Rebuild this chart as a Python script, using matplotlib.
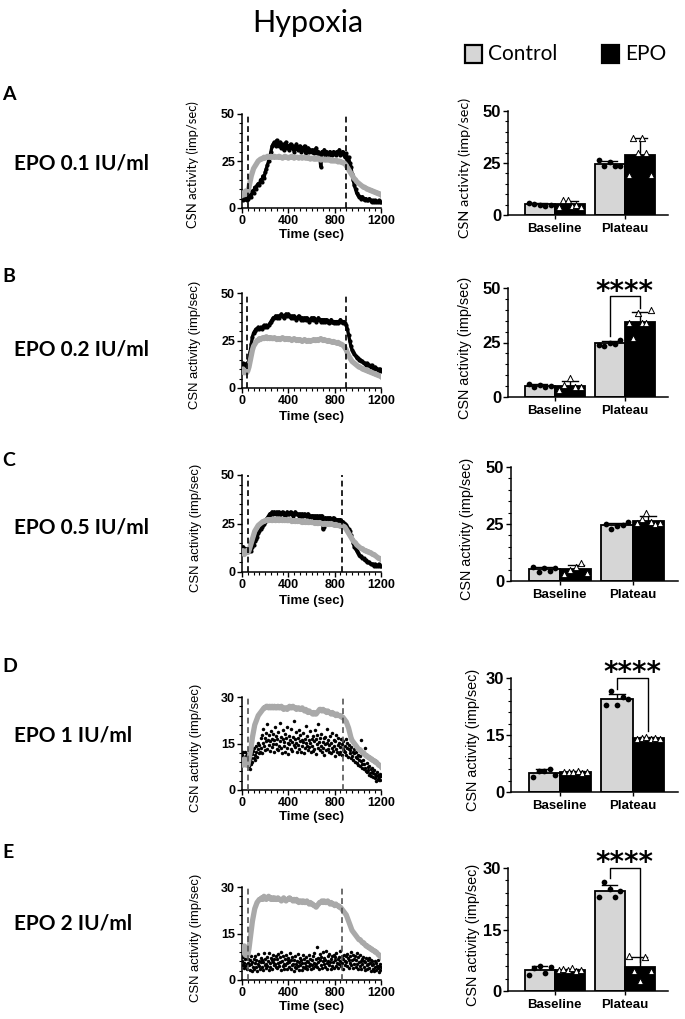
import numpy as np
import matplotlib
matplotlib.use('Agg')
import matplotlib.pyplot as plt
from matplotlib.ticker import MultipleLocator
from matplotlib.patches import Rectangle

# ---------------- DATA ----------------
panel_letters = ['A', 'B', 'C', 'D', 'E']
dose_labels = ['EPO 0.1 IU/ml', 'EPO 0.2 IU/ml', 'EPO 0.5 IU/ml', 'EPO 1 IU/ml', 'EPO 2 IU/ml']
legend_labels = ['Control', 'EPO']
group_labels = ['Baseline', 'Plateau']
time_ticks = [0, 400, 800, 1200]

# hypoxia on / off markers (sec)
dash_A = [50, 895]
dash_B = [45, 895]
dash_C = [55, 860]
dash_D = [55, 870]
dash_E = [50, 860]

# time courses (0 .. 1200 s)
A_time_ctrl = [7, 8, 7, 9, 8, 9,
               11, 14, 17, 19, 21, 22, 23, 24, 25, 25.5,
               26, 26, 26.5, 27, 26.5, 27, 27.5, 27, 27, 27.5, 27, 27, 27.5, 27, 27,
               27, 27.5, 27, 27, 26.5, 27, 27.5, 27, 27, 26.5, 27, 27, 27.5, 27, 26.5, 27, 27, 27, 26.5, 27, 27, 26.5, 27, 27, 26.5, 26.5, 27, 26.5, 26, 26.5,
               26.5, 26, 26.5, 26, 26, 26.5, 26, 25.5, 26, 26, 25.5, 26, 25.5, 25.5, 26, 25.5, 25, 25.5, 25, 25, 25.5, 25, 24.5, 25, 24.5, 24.5, 24, 24,
               23.5, 22.5, 21.5, 20.5, 19.5, 18.5, 17.5, 16.5, 15.5, 15, 14, 13.5, 13, 12.5, 12, 11.5, 11, 11, 10.5, 10, 10, 9.5, 9.5, 9, 9, 8.5, 8.5, 8, 8, 7.5, 7.5, 7]
A_time_epo = [5, 4, 6, 5, 4, 5,
              6, 7, 6, 9, 8, 11, 10, 12, 13, 12, 15, 14, 17, 16, 19,
              21, 23, 25, 27, 30, 33, 34, 35, 33, 36,
              34, 33, 35, 32, 34, 31, 33, 35, 32, 33, 31, 34, 32, 33, 30, 32, 34, 31, 32, 33, 30, 32, 31, 33, 29, 31, 32, 30, 31, 30,
              31, 29, 30, 32, 29, 30, 28, 22, 30, 29, 31, 28, 30, 29, 28, 30, 29, 28, 30, 29, 28, 30, 29, 31, 28, 29, 30, 28,
              27, 29, 25, 27, 24, 22, 18, 15, 12, 10, 8, 7, 6, 6, 5, 6, 5, 4, 5, 4, 4, 5, 4, 3, 4, 3, 4, 3, 3, 4, 3, 3]

B_time_ctrl = [9, 10, 8, 9, 8, 9,
               11, 14, 17, 20, 22, 23, 24, 25, 25, 26,
               25.5, 26, 26.5, 26, 26.5, 27, 26, 26.5, 26, 26.5, 26, 26, 26.5, 26, 25.5,
               26, 26, 25.5, 26, 26.5, 26, 25.5, 26, 26, 25.5, 26, 25.5, 25, 25.5, 26, 25.5, 25, 25.5, 25, 25.5, 25, 24.5, 25, 25.5, 25, 24.5, 25, 25, 24.5, 25,
               25, 25.5, 25, 25, 25.5, 25, 25.5, 26, 25.5, 25, 25.5, 25, 25, 24.5, 25, 24.5, 24.5, 24, 24.5, 24, 24, 23.5, 24, 23.5, 23, 23, 22.5, 22,
               21, 20, 18.5, 17, 16, 15, 14, 13.5, 13, 12.5, 12, 11.5, 11, 11, 10.5, 10, 10, 9.5, 9.5, 9, 9, 8.5, 8.5, 8, 8, 7.5, 7.5, 7, 7, 6.5, 6.5, 6]
B_time_epo = [12, 13, 11, 12, 13, 12,
              15, 19, 23, 27, 29, 30, 31, 31, 32, 31,
              32, 31, 32, 33, 32, 33, 32, 33, 34, 35, 36, 37, 37, 38, 37,
              38, 37, 38, 39, 38, 37, 38, 39, 38, 39, 38, 37, 38, 37, 38, 37, 36, 37, 38, 37, 36, 37, 36, 37, 36, 37, 36, 35, 36, 37,
              36, 37, 36, 35, 36, 37, 36, 35, 36, 35, 36, 35, 36, 35, 34, 35, 36, 35, 34, 35, 34, 35, 34, 35, 36, 35, 34, 35,
              34, 33, 31, 28, 25, 22, 20, 19, 18, 17, 16, 16, 15, 15, 14, 14, 13, 13, 12, 13, 12, 12, 11, 12, 11, 10, 11, 10, 10, 9, 10, 9]

C_time_ctrl = [10, 11, 9, 10, 11, 10,
               11, 13, 15, 17, 19, 21, 22, 23, 24, 24.5,
               25, 25.5, 26, 26, 26.5, 26.5, 27, 26.5, 27, 27, 26.5, 27, 27, 26.5, 27,
               27, 26.5, 27, 27, 26.5, 27, 26.5, 27, 26.5, 26.5, 27, 26.5, 26, 26.5, 26.5, 26, 26.5, 26, 26.5, 26, 26, 25.5, 26, 26, 25.5, 26, 25.5, 25.5, 26, 25.5,
               25.5, 25.5, 25, 25.5, 25, 25, 25.5, 25, 25, 24.5, 25, 25, 24.5, 25, 24.5, 24.5, 25, 24.5, 24.5, 24, 24.5, 24, 24, 24, 23.5, 24, 23.5, 23.5,
               23, 22, 21, 20, 19, 18, 17, 16, 15.5, 15, 14, 13.5, 13, 12.5, 12, 12, 11.5, 11, 11, 10.5, 10.5, 10, 10, 9.5, 9, 9, 8.5, 8, 7.5, 7, 7, 6.5]
C_time_epo = [12, 13, 11, 12, 11, 12,
              11, 12, 11, 13, 14, 16, 17, 18, 20, 21,
              22, 23, 24, 25, 26, 27, 28, 29, 30, 30, 31, 30, 31, 30, 31,
              30, 31, 30, 30, 31, 30, 29, 30, 31, 30, 30, 31, 30, 29, 30, 31, 30, 30, 29, 30, 29, 30, 29, 30, 29, 29, 30, 29, 28, 29,
              29, 28, 29, 28, 29, 28, 29, 28, 29, 22, 23, 28, 27, 28, 27, 28, 27, 27, 28, 27, 27, 26, 27, 26, 27, 26, 26, 25,
              25, 24, 23, 22, 21, 19, 17, 15, 13, 12, 11, 10, 9, 8, 8, 7, 7, 6, 6, 5, 5, 5, 4, 4, 4, 3, 4, 3, 3, 4, 3, 3]

D_time_ctrl = [9, 8, 10, 9, 8, 8,
               10, 12, 14, 17, 19, 21, 22, 23, 24, 24.5,
               25, 25.5, 26, 26.5, 26.5, 27, 27, 26.5, 27, 26.5, 27, 26.5, 27, 26.5, 26.5,
               27, 26.5, 26.5, 27, 26.5, 26, 26.5, 26.5, 26, 26.5, 27, 26.5, 26.5, 27, 26.5, 26.5, 26, 26.5, 26.5, 26, 26, 26.5, 26, 25.5, 26, 25.5, 25, 25.5, 25, 25,
               24.5, 25, 24.5, 24.5, 25, 25.5, 26, 26, 25.5, 26, 25.5, 25.5, 25, 25.5, 25, 25, 24.5, 25, 24.5, 24.5, 24, 24.5, 24, 24, 24, 23.5, 23.5, 23,
               22.5, 22, 21, 20, 18.5, 17, 16, 15.5, 15, 14.5, 14, 13.5, 13, 13, 12.5, 12, 12, 11.5, 11, 11, 10.5, 10.5, 10, 10, 9.5, 9.5, 9, 9, 8.5, 8, 8, 7.5]
D_time_epo = [11.2, 9.6, 12.4, 8.8, 10.5, 12.1, 9.3, 10.9, 11.6, 8.4, 10.2, 9.7,
              7.6, 9.8, 6.9, 10.4, 8.3, 11.7, 9.1, 12.6, 10.3, 13.4, 11.2, 9.6, 14.1, 12.3, 10.8, 15.2, 13.1, 11.9,
              14.6, 12.2, 16.8, 13.5, 17.9, 11.8, 15.3, 19.6, 14.2, 16.7, 12.9, 18.4, 15.8, 13.1, 21.3, 16.2, 14.4, 17.6, 12.7, 15.9,
              19.1, 13.8, 16.4, 14.9, 18.2, 12.4, 16.1, 20.4, 14.7, 17.3, 13.2,
              16.6, 12.8, 18.7, 14.3, 15.8, 21.6, 13.4, 17.2, 11.9, 16.3, 19.4, 14.1, 15.6, 12.2, 18.1, 16.9, 13.7, 20.2, 15.1, 11.6,
              17.4, 14.8, 16.2, 13.3, 19.8, 15.5, 12.6, 17.1, 14.4, 22.1, 16.4, 13.9, 15.2, 18.6, 12.1, 16.8, 14.6, 19.2, 13.2, 15.9,
              17.7, 12.4, 16.1, 14.3, 18.3, 15.4, 11.8, 16.6, 13.6, 20.6, 15.3, 14.1, 17.5, 12.9, 16.2, 13.8, 18.9, 15.1, 12.3, 16.4,
              14.2, 17.4, 12.6, 15.8, 13.1, 19.2, 16.3, 11.7, 14.9, 17.8, 13.4, 21.4, 15.6, 12.8, 16.9, 14.1, 18.2, 12.3, 15.4, 13.6,
              16.7, 11.4, 14.8, 17.1, 12.9, 15.3, 19.7, 13.2, 16.1, 12.1, 14.6, 17.3, 11.8, 15.2, 13.7, 18.4, 12.5, 16.2, 14.1, 10.9,
              15.7, 13.3, 17.6, 12.2, 14.4, 16.8, 11.6, 15.1, 13.8, 12.4, 16.3, 14.7, 11.2, 15.9, 13.1, 12.6,
              14.3, 12.1, 16.4, 11.3, 13.7, 15.2, 10.8, 13.1, 14.6, 11.9, 12.8, 10.4, 13.9, 11.1, 12.4, 9.6, 11.8, 13.2, 9.1, 10.7,
              12.3, 8.6, 10.2, 11.4, 8.1, 9.7, 10.9, 7.6, 9.3, 16.2, 8.4, 7.2, 9.8, 6.7, 8.3, 13.5, 7.1, 6.2, 8.6, 5.8,
              7.4, 6.6, 4.9, 7.9, 5.6, 6.8, 4.6, 5.9, 7.2, 4.2, 5.4, 6.3, 3.8, 5.1, 4.4, 2.9, 5.7, 3.6, 4.8, 3.3, 4.1, 5.2, 3.1, 4.5]

E_time_ctrl = [10, 9, 11, 8, 9, 8,
               10, 13, 16, 19, 21, 23, 24, 25, 25.5, 26,
               26, 26.5, 26, 27, 26.5, 26, 26.5, 27, 26.5, 26, 26.5, 26, 26.5, 26, 26,
               26.5, 26, 26, 25.5, 26, 26.5, 26, 25.5, 26, 26, 26.5, 26, 26, 25.5, 26, 25.5, 26, 25.5, 25, 25.5, 25.5, 25, 25.5, 25, 25, 25.5, 25, 24.5, 25, 24.5,
               24.5, 24, 24, 23.5, 24, 24.5, 25, 25, 25.5, 25, 25.5, 25, 25, 25.5, 25, 24.5, 25, 24.5, 24.5, 24, 24.5, 24, 24, 23.5, 23.5, 23, 22.5, 22,
               21.5, 21, 20, 19, 18, 17, 16, 15.5, 15, 14.5, 14, 13.5, 13, 13, 12.5, 12, 12, 11.5, 11, 11, 10.5, 10.5, 10, 10, 9.5, 9.5, 9, 9, 8.5, 8, 8, 7.5]
E_time_epo = [6.2, 4.8, 7.3, 3.9, 5.6, 6.7, 4.4, 8.1, 5.2, 3.6, 6.9, 5.4,
              4.7, 3.2, 6.4, 5.1, 7.6, 2.8, 5.9, 4.3, 6.8, 3.7, 5.5, 7.9, 4.1, 6.3, 2.9, 5.2, 8.3, 4.6, 6.1, 3.4,
              7.2, 5.8, 4.2, 6.6, 3.1, 5.7, 8.6, 4.9, 6.9, 3.8, 5.3, 7.4, 4.5, 6.2, 3.3, 8.8, 5.6, 4.1, 7.1, 6.4,
              3.6, 5.9, 8.2, 4.7, 6.7, 5.1, 7.7, 4.3,
              6.8, 3.9, 5.4, 8.4, 4.6, 7.3, 5.8, 3.2, 9.1, 6.1, 4.4, 7.6, 5.2, 3.7, 6.9, 4.8, 8.1, 5.5, 3.4, 7.1,
              6.3, 4.1, 5.7, 8.7, 3.6, 6.4, 4.9, 7.4, 5.3, 2.9, 6.6, 4.2, 7.8, 5.1, 3.8, 6.2, 8.3, 4.5, 5.9, 3.3,
              7.2, 4.7, 6.5, 3.1, 5.6, 8.1, 4.3, 6.8, 3.9, 5.4, 7.5, 4.6, 6.1, 3.5, 5.8, 8.2, 4.4, 6.7, 5.2, 3.7,
              6.3, 4.9, 7.7, 3.8, 5.6, 8.6, 4.4, 6.9, 5.3, 10.8, 4.1, 7.2, 5.9, 3.6, 8.3, 6.4, 4.7, 7.5, 3.9, 6.1,
              8.9, 5.2, 7.1, 4.3, 6.6, 9.2, 5.5, 3.7, 7.8, 6.2, 4.8, 8.4, 5.7, 3.4, 6.9, 7.6, 4.5, 5.9, 8.1, 3.9,
              6.4, 7.3, 4.6, 8.7, 5.4, 6.8, 3.8, 7.4, 5.1, 9.4, 6.2, 4.4, 7.9, 5.6, 3.5, 6.7, 8.2, 4.9, 6.1, 7.7,
              5.8, 8.4, 4.6, 7.1, 6.3, 3.9, 7.8, 5.4, 9.1, 4.7, 6.6, 8.2, 3.8, 6.9, 5.2, 7.6, 4.3, 6.4, 8.6, 5.1,
              3.6, 7.3, 5.9, 4.4, 8.1, 6.2, 3.7, 6.8, 5.3, 7.4, 4.1, 6.1, 3.2, 5.7, 7.2, 4.8, 3.5, 6.4, 5.1, 7.1,
              3.9, 5.5, 6.6, 2.8, 4.9, 6.2, 3.6, 5.3, 2.9, 6.1, 4.2, 5.6, 3.1, 4.6, 6.3, 3.8, 2.7, 4.4, 5.2, 3.3, 4.1]

# individual animals for bar charts (imp/sec)
A_ctrl_base = [6.0, 5.5, 5.0, 4.5, 5.0]
A_epo_base = [4.0, 7.0, 7.0, 4.5, 5.0, 4.0]
A_ctrl_plat = [26.5, 23.5, 25.5, 23.5, 23.5]
A_epo_plat = [19.0, 37.0, 30.0, 37.0, 30.0, 19.0]

B_ctrl_base = [6.0, 4.5, 5.5, 4.5, 5.0]
B_epo_base = [3.0, 5.5, 8.5, 4.5, 4.5]
B_ctrl_plat = [24.0, 23.5, 25.0, 24.5, 26.0]
B_epo_plat = [34.0, 27.0, 38.5, 34.0, 34.0, 40.0]

C_ctrl_base = [6.0, 4.0, 5.5, 4.5, 5.5]
C_epo_base = [3.0, 5.0, 6.0, 8.0, 3.5]
C_ctrl_plat = [25.0, 23.0, 24.0, 24.5, 26.0]
C_epo_plat = [25.5, 27.0, 30.0, 26.0, 25.0, 25.5]

D_ctrl_base = [4.0, 5.5, 5.5, 6.0, 4.5]
D_epo_base = [5.2, 5.3, 5.2, 5.5, 5.0, 5.2]
D_ctrl_plat = [23.0, 26.5, 23.0, 25.0, 24.5]
D_epo_plat = [14.0, 14.2, 14.5, 14.0, 14.3, 13.9]

E_ctrl_base = [4.0, 5.5, 6.0, 4.5, 5.8]
E_epo_base = [5.2, 5.3, 5.2, 5.5, 5.0, 5.2]
E_ctrl_plat = [23.0, 26.5, 25.0, 23.0, 24.5]
E_epo_plat = [8.5, 5.0, 2.5, 8.2, 5.0]

sig_text = '****'

# ---------------- FIGURE ----------------
W, H = 685, 1019
fig = plt.figure(figsize=(W / 100, H / 100), dpi=100)
SANS = 'Liberation Sans'
CAL = 'Lato'
CTRL_BAR = '#d6d6d6'
CTRL_LINE = '#a9a9a9'


def px_axes(l, r, t, b):
    return fig.add_axes([l / W, 1 - b / H, (r - l) / W, (b - t) / H])


def style_axes(ax, labelsize):
    for s in ('top', 'right'):
        ax.spines[s].set_visible(False)
    for s in ('left', 'bottom'):
        ax.spines[s].set_linewidth(1.1)
    ax.tick_params(which='major', length=3.5, width=1.0, labelsize=labelsize, pad=1.5)
    ax.tick_params(which='minor', length=2, width=0.8)
    for lab in ax.get_xticklabels() + ax.get_yticklabels():
        lab.set_fontweight('bold')
        lab.set_fontfamily(SANS)


def time_panel(rect, ctrl, epo, ymax, dashes, dcolor, cloud, ylab_x, ylab_font, time_y):
    l, r, t, b = rect
    ax = px_axes(l, r, t, b)
    te = np.linspace(0, 1200, len(epo))
    tc = np.linspace(0, 1200, len(ctrl))
    if cloud:
        ax.plot(te, epo, ls='none', marker='o', ms=2.5, mew=0, color='black', zorder=2)
    else:
        ax.plot(te, epo, color='black', lw=2.4, marker='o', ms=3.0, mew=0, zorder=2)
    ax.plot(tc, ctrl, color=CTRL_LINE, lw=3.8, zorder=3)
    for d in dashes:
        ax.axvline(d, color=dcolor, ls=(0, (3.5, 2.2)), lw=1.2, zorder=4)
    ax.set_xlim(0, 1200)
    ax.set_ylim(0, ymax)
    ax.set_xticks(time_ticks)
    ax.set_yticks([0, ymax / 2, ymax])
    ax.set_yticklabels([str(int(v)) for v in (0, ymax / 2, ymax)])
    ax.xaxis.set_minor_locator(MultipleLocator(50))
    ax.yaxis.set_minor_locator(MultipleLocator(ymax / 10))
    style_axes(ax, 9)
    fig.text((l + r) / 2 / W, 1 - time_y / H, 'Time (sec)', ha='center', va='center',
             fontsize=9.5, fontweight='bold', family=SANS)
    fig.text(ylab_x / W, 1 - ((t + b) / 2 + 4) / H, 'CSN activity (imp/sec)', rotation=90,
             ha='center', va='center', fontsize=9.4, family=ylab_font)
    return ax


def bar_panel(rect, ymax, cb, eb, cp, ep, ylab_x, ylab_font, sig=None):
    l, r, t, b = rect
    ax = px_axes(l, r, t, b)
    w = 0.43
    for gi, (c, e) in enumerate(((cb, eb), (cp, ep))):
        for vals, off, face, mk in ((c, -w / 2, CTRL_BAR, 'o'), (e, w / 2, 'black', '^')):
            x = gi + off
            m = float(np.mean(vals))
            sd = float(np.std(vals, ddof=1))
            ax.bar(x, m, width=w, color=face, edgecolor='black', lw=1.3, zorder=2)
            ax.plot([x, x], [m, m + sd], color='black', lw=1.0, zorder=3, solid_capstyle='butt')
            ax.plot([x - 0.11, x + 0.11], [m + sd, m + sd], color='black', lw=1.0, zorder=3)
            offs = np.linspace(-0.36 * w, 0.36 * w, len(vals))
            if mk == 'o':
                ax.scatter(x + offs, vals, s=17, c='black', marker='o', zorder=4, linewidths=0)
            else:
                ax.scatter(x + offs, vals, s=20, facecolor='white', edgecolor='black',
                           linewidths=0.7, marker='^', zorder=4)
    ax.set_xlim(-0.67, 1.62)
    ax.set_ylim(0, ymax)
    ax.set_xticks([0, 1])
    ax.set_xticklabels(group_labels)
    ax.set_yticks([0, ymax / 2, ymax])
    ax.set_yticklabels([str(int(v)) for v in (0, ymax / 2, ymax)])
    ax.yaxis.set_minor_locator(MultipleLocator(ymax / 10))
    style_axes(ax, 12)
    ax.tick_params(axis='x', labelsize=9.5, pad=3, length=3)
    if sig is not None:
        yl, ytop, yr, ystar = sig
        x1, x2 = 1 - w / 2, 1 + w / 2
        ax.plot([x1, x1, x2, x2], [yl, ytop, ytop, yr], color='black', lw=1.0, clip_on=False, zorder=5)
        ax.annotate(sig_text, xy=(1, ystar), xytext=(0, -11.5), textcoords='offset points',
                    ha='center', va='baseline', fontsize=20, fontweight='bold',
                    family='DejaVu Sans', annotation_clip=False)
    fig.text(ylab_x / W, 1 - ((t + b) / 2 + 5) / H, 'CSN activity (imp/sec)', rotation=90,
             ha='center', va='center', fontsize=10.4, family=ylab_font)
    return ax


# title and legend
fig.text(308 / W, 1 - 23 / H, 'Hypoxia', ha='center', va='center', fontsize=22, family=CAL)
fig.add_artist(Rectangle((465 / W, 1 - 63 / H), 17 / W, 18 / H, transform=fig.transFigure,
                         facecolor=CTRL_BAR, edgecolor='black', lw=1.6))
fig.add_artist(Rectangle((602 / W, 1 - 63 / H), 17 / W, 18 / H, transform=fig.transFigure,
                         facecolor='black', edgecolor='black', lw=1.6))
fig.text(488 / W, 1 - 54 / H, legend_labels[0], ha='left', va='center', fontsize=15, family=CAL)
fig.text(625 / W, 1 - 54 / H, legend_labels[1], ha='left', va='center', fontsize=15, family=CAL)

# panel letters and dose labels
letter_y = [95, 277, 461, 667, 852]
dose_y = [164, 350, 528, 735, 923]
for L, ly, D, dy in zip(panel_letters, letter_y, dose_labels, dose_y):
    fig.text(2 / W, 1 - ly / H, L, ha='left', va='center', fontsize=14, fontweight='bold', family=CAL)
    fig.text(14 / W, 1 - dy / H, D, ha='left', va='center', fontsize=15, fontweight='bold', family=CAL)

# time courses
time_panel((242, 381, 114, 208), A_time_ctrl, A_time_epo, 50, dash_A, 'black', False, 193, CAL, 235)
time_panel((242, 381, 293, 388), B_time_ctrl, B_time_epo, 50, dash_B, 'black', False, 195, SANS, 417)
time_panel((242, 381, 475, 572), C_time_ctrl, C_time_epo, 50, dash_C, 'black', False, 196, SANS, 601)
time_panel((242, 381, 697, 790), D_time_ctrl, D_time_epo, 30, dash_D, '#555555', True, 196, SANS, 817)
time_panel((242, 381, 887, 980), E_time_ctrl, E_time_epo, 30, dash_E, '#555555', True, 196, SANS, 1007)

# bar charts
bar_panel((508, 668, 111, 215), 50, A_ctrl_base, A_epo_base, A_ctrl_plat, A_epo_plat, 465, CAL)
bar_panel((508, 668, 288, 397), 50, B_ctrl_base, B_epo_base, B_ctrl_plat, B_epo_plat, 465, SANS,
          sig=(28, 46.5, 41, 52))
bar_panel((511, 678, 467, 581), 50, C_ctrl_base, C_epo_base, C_ctrl_plat, C_epo_plat, 467, SANS)
bar_panel((511, 678, 678, 792), 30, D_ctrl_base, D_epo_base, D_ctrl_plat, D_epo_plat, 473, SANS,
          sig=(27, 30, 16, 33.5))
bar_panel((508, 668, 868, 991), 30, E_ctrl_base, E_epo_base, E_ctrl_plat, E_epo_plat, 473, SANS,
          sig=(27.5, 30, 7, 33.2))

fig.savefig('out.png', dpi=100)
